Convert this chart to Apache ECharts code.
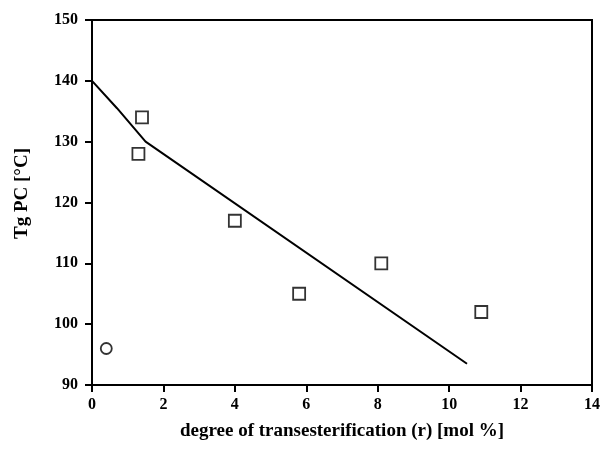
<!DOCTYPE html>
<html>
<head>
<meta charset="utf-8">
<script src="https://cdn.jsdelivr.net/npm/echarts@6/dist/echarts.min.js"></script>
<style>html,body{margin:0;padding:0;background:#fff}#c{width:603px;height:449px}</style>
</head>
<body>
<div id="c"></div>
<script>
// Data
var squareX = [1.3, 1.4, 4.0, 5.8, 8.1, 10.9];
var squareY = [128, 134, 117, 105, 110, 102];
var circleX = [0.4];
var circleY = [96];
var lineX = [0, 0.7, 1.5, 10.5];
var lineY = [140, 135.5, 130, 93.5];
var xTicks = [0, 2, 4, 6, 8, 10, 12, 14];
var yTicks = [90, 100, 110, 120, 130, 140, 150];

function zip(a, b) { return a.map(function (v, i) { return [v, b[i]]; }); }

var font = 'Liberation Serif';
var chart = echarts.init(document.getElementById('c'), null, {renderer: 'canvas'});
chart.setOption({
  animation: false,
  backgroundColor: '#fff',
  grid: {left: 92, right: 8, top: 20, bottom: 64, show: true, borderColor: '#000', borderWidth: 2},
  xAxis: {
    type: 'value', min: 0, max: 14, interval: 2,
    name: 'degree of transesterification (r) [mol %]',
    nameLocation: 'middle', nameGap: 37,
    nameTextStyle: {fontFamily: font, fontSize: 19, fontWeight: 'bold', color: '#000'},
    axisLine: {lineStyle: {color: '#000', width: 2}},
    axisTick: {show: true, length: 7, lineStyle: {color: '#000', width: 2}},
    axisLabel: {fontFamily: font, fontSize: 16, fontWeight: 'bold', color: '#000', margin: 12,
      formatter: function (v) { return xTicks.indexOf(v) >= 0 ? String(v) : ''; }},
    splitLine: {show: false}
  },
  yAxis: {
    type: 'value', min: 90, max: 150, interval: 10,
    name: 'Tg PC [°C]',
    nameLocation: 'middle', nameGap: 60,
    nameTextStyle: {fontFamily: font, fontSize: 19, fontWeight: 'bold', color: '#000', padding: [0, 0, 0, 18]},
    axisLine: {lineStyle: {color: '#000', width: 2}},
    axisTick: {show: true, length: 7, lineStyle: {color: '#000', width: 2}},
    axisLabel: {fontFamily: font, fontSize: 16, fontWeight: 'bold', color: '#000', margin: 14,
      formatter: function (v) { return yTicks.indexOf(v) >= 0 ? String(v) : ''; }},
    splitLine: {show: false}
  },
  series: [
    {
      type: 'line', data: zip(lineX, lineY), showSymbol: false, symbol: 'none',
      lineStyle: {color: '#000', width: 2}, z: 2
    },
    {
      type: 'scatter', data: zip(squareX, squareY), symbol: 'rect', symbolSize: 12,
      itemStyle: {color: '#fff', borderColor: '#000', borderWidth: 1.8}, z: 3
    },
    {
      type: 'scatter', data: zip(circleX, circleY), symbol: 'circle', symbolSize: 11,
      itemStyle: {color: '#fff', borderColor: '#000', borderWidth: 1.8}, z: 3
    }
  ]
});
</script>
</body>
</html>
